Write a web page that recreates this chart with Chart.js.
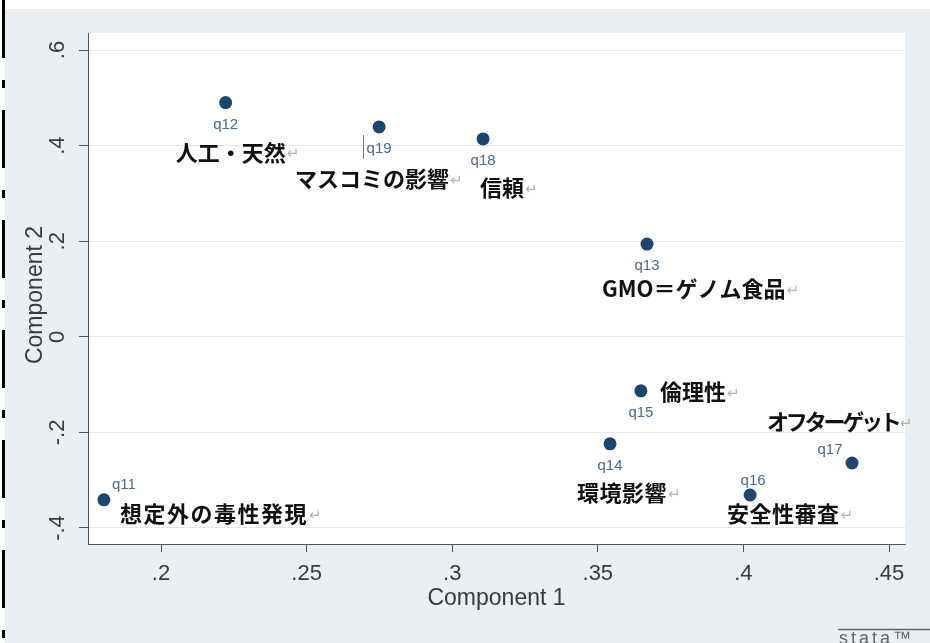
<!DOCTYPE html>
<html>
<head>
<meta charset="utf-8">
<title>Component loadings</title>
<script src="https://cdn.jsdelivr.net/npm/chart.js@4.4.1/dist/chart.umd.min.js"></script>
<style>
  html, body { margin: 0; padding: 0; background: #ffffff; }
  #wrap { width: 930px; height: 643px; }
</style>
</head>
<body>
<div id="wrap"><canvas id="c" width="930" height="643"></canvas></div>
<script>
// Loadings on the first two components, one point per question
const categories = ['q11', 'q12', 'q13', 'q14', 'q15', 'q16', 'q17', 'q18', 'q19'];
const component1 = [0.1804, 0.2222, 0.3669, 0.3542, 0.3648, 0.4023, 0.4373, 0.3106, 0.2749];
const component2 = [-0.341, 0.490, 0.194, -0.224, -0.113, -0.331, -0.264, 0.414, 0.439];
const topics = ['想定外の毒性発現', '人工・天然', 'GMO＝ゲノム食品', '環境影響', '倫理性',
                '安全性審査', 'オフターゲット', '信頼', 'マスコミの影響'];

// Axis ticks and their printed labels
const xTickValues = [0.2, 0.25, 0.3, 0.35, 0.4, 0.45];
const xTickLabels = ['.2', '.25', '.3', '.35', '.4', '.45'];
const yTickValues = [-0.4, -0.2, 0, 0.2, 0.4, 0.6];
const yTickLabels = ['-.4', '-.2', '0', '.2', '.4', '.6'];

// Marker-label placement (clock position around the marker)
const labelClock = [1, 6, 6, 6, 6, 12, 11, 6, 6];
const clockOffset = { 1: [20, -15], 6: [0, 22], 11: [-22, -13], 12: [3, -14] };
// Topic text placement relative to the marker: [left edge dx, middle dy]
const topicOffset = [[16, 14], [-50, 50], [-45, 45], [-33, 49], [19, 1],
                     [-23, 19], [-85, -41], [-3, 49], [-84, 52]];
// Per-caption letter spacing (px)
const topicTracking = [1.5, 0, 0, 0.5, 0, 0.5, -3.2, 0, 0];

const NAVY = '#1a476f';
const REGION = '#e9eff3';
const AXIS = '#555555';
const TEXT = '#3a3a3a';
const SANS = '"Liberation Sans", Arial, sans-serif';

const points = categories.map((c, i) => ({ x: component1[i], y: component2[i] }));

const backdrop = {
  id: 'backdrop',
  beforeDraw(chart) {
    const { ctx, chartArea: a, width, height } = chart;
    ctx.save();
    ctx.fillStyle = '#ffffff';
    ctx.fillRect(0, 0, width, height);
    ctx.fillStyle = REGION;
    ctx.fillRect(5, 9, width - 5, height - 9);
    ctx.fillStyle = '#ffffff';
    ctx.fillRect(a.left, a.top, a.right - a.left, a.bottom - a.top);
    // dash-dot rule down the left edge
    ctx.strokeStyle = '#000000';
    ctx.lineWidth = 3;
    ctx.setLineDash([58, 22, 8, 22]);
    ctx.beginPath();
    ctx.moveTo(3.5, 0);
    ctx.lineTo(3.5, height);
    ctx.stroke();
    ctx.restore();
  }
};

const annotations = {
  id: 'annotations',
  afterDatasetsDraw(chart) {
    const { ctx } = chart;
    const meta = chart.getDatasetMeta(0);
    ctx.save();
    meta.data.forEach((pt, i) => {
      // question id next to its marker
      const off = clockOffset[labelClock[i]];
      ctx.font = '15px ' + SANS;
      ctx.fillStyle = '#4b6b8b';
      ctx.textAlign = 'center';
      ctx.textBaseline = 'middle';
      ctx.letterSpacing = '0px';
      ctx.fillText(categories[i], pt.x + off[0], pt.y + off[1]);

      // topic caption with a return mark after it
      const t = topicOffset[i];
      const tx = pt.x + t[0];
      const ty = pt.y + t[1];
      ctx.font = 'bold 22px "Noto Sans CJK JP", sans-serif';
      ctx.fillStyle = '#111111';
      ctx.textAlign = 'left';
      ctx.letterSpacing = topicTracking[i] + 'px';
      ctx.fillText(topics[i], tx, ty);
      const w = ctx.measureText(topics[i]).width;
      ctx.letterSpacing = '0px';
      ctx.font = '15px "DejaVu Sans", sans-serif';
      ctx.fillStyle = '#b4b4b4';
      ctx.fillText('\u21B5', tx + w + 1, ty + 2);
    });
    // text caret left of the q19 label
    const p19 = meta.data[8];
    ctx.strokeStyle = '#6a7f95';
    ctx.lineWidth = 1;
    ctx.beginPath();
    ctx.moveTo(Math.round(p19.x) - 15.5, p19.y + 8);
    ctx.lineTo(Math.round(p19.x) - 15.5, p19.y + 32);
    ctx.stroke();
    ctx.restore();
  }
};

const frame = {
  id: 'frame',
  afterDraw(chart) {
    const { ctx, width, height } = chart;
    const ys = chart.scales.y;
    ctx.save();
    // vertical-axis labels, turned to read upward
    ctx.font = '22px ' + SANS;
    ctx.fillStyle = TEXT;
    ctx.textAlign = 'center';
    ctx.textBaseline = 'middle';
    yTickValues.forEach((v, i) => {
      ctx.save();
      ctx.translate(58, ys.getPixelForValue(v));
      ctx.rotate(-Math.PI / 2);
      ctx.fillText(yTickLabels[i], 0, 0);
      ctx.restore();
    });
    // vertical-axis title
    ctx.save();
    ctx.font = '23px ' + SANS;
    ctx.translate(36, 295);
    ctx.rotate(-Math.PI / 2);
    ctx.fillText('Component 2', 0, 0);
    ctx.restore();
    // wordmark in the lower right corner
    ctx.strokeStyle = '#666666';
    ctx.lineWidth = 1.5;
    ctx.beginPath();
    ctx.moveTo(838, 629.5);
    ctx.lineTo(width, 629.5);
    ctx.stroke();
    ctx.font = '18px ' + SANS;
    ctx.fillStyle = '#666666';
    ctx.textAlign = 'left';
    ctx.textBaseline = 'alphabetic';
    ctx.letterSpacing = '3px';
    ctx.fillText('stata\u2122', 839, height + 0.5);
    ctx.restore();
  }
};

new Chart(document.getElementById('c'), {
  type: 'scatter',
  data: {
    datasets: [{
      data: points,
      pointRadius: 6.5,
      pointBackgroundColor: NAVY,
      pointBorderWidth: 0,
      pointHoverRadius: 6.5
    }]
  },
  options: {
    responsive: false,
    animation: false,
    events: [],
    layout: { padding: { left: 0, right: 25, top: 33, bottom: 0 } },
    plugins: { legend: { display: false }, tooltip: { enabled: false } },
    scales: {
      x: {
        type: 'linear',
        min: 0.17493,
        max: 0.45549,
        afterBuildTicks: s => { s.ticks = xTickValues.map(v => ({ value: v })); },
        afterFit: s => { s.height = 99; },
        ticks: {
          font: { family: SANS, size: 22 },
          color: TEXT,
          padding: 9,
          maxRotation: 0,
          callback: (v) => xTickLabels[xTickValues.findIndex(t => Math.abs(t - v) < 1e-9)]
        },
        grid: { display: true, drawOnChartArea: false, drawTicks: true, tickLength: 8, tickColor: AXIS },
        border: { display: true, color: AXIS, width: 1 },
        title: {
          display: true,
          text: 'Component 1',
          font: { family: SANS, size: 23 },
          color: TEXT,
          padding: { top: 0, bottom: 31 }
        }
      },
      y: {
        type: 'linear',
        min: -0.4335,
        max: 0.6356,
        afterBuildTicks: s => { s.ticks = yTickValues.map(v => ({ value: v })); },
        afterFit: s => { s.width = 88; },
        ticks: {
          font: { family: SANS, size: 22 },
          color: 'rgba(0,0,0,0)',
          callback: (v) => yTickLabels[yTickValues.findIndex(t => Math.abs(t - v) < 1e-9)]
        },
        grid: { display: true, drawOnChartArea: true, color: '#e6e6e6', drawTicks: true, tickLength: 9, tickColor: AXIS },
        border: { display: true, color: AXIS, width: 1 },
        title: { display: false }
      }
    }
  },
  plugins: [backdrop, annotations, frame]
});
</script>
</body>
</html>
